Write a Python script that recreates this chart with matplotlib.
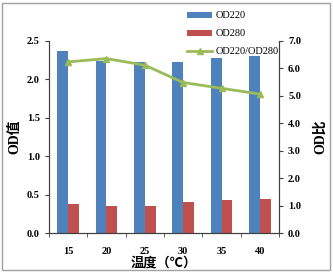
import matplotlib
matplotlib.use("Agg")
import matplotlib.pyplot as plt
import numpy as np
from matplotlib.patches import Rectangle

temps = ["15", "20", "25", "30", "35", "40"]
od220 = [2.37, 2.24, 2.22, 2.23, 2.27, 2.30]
od280 = [0.38, 0.35, 0.36, 0.41, 0.43, 0.45]
ratio = [6.23, 6.35, 6.11, 5.48, 5.27, 5.06]

blue = "#4F81BD"
red = "#C0504D"
green = "#9BBB59"
fam = ["Liberation Serif", "Noto Sans CJK SC"]

fig = plt.figure(figsize=(3.33, 2.73), dpi=100)
fig.patches.append(Rectangle((0.005, 0.011), 0.985, 0.978, transform=fig.transFigure,
                             fill=False, edgecolor="#a0a0a0", linewidth=1.0))
ax = fig.add_axes([0.147, 0.1454, 0.691, 0.7055])
ax2 = ax.twinx()

x = np.arange(len(temps))
w = 0.28
b1 = ax.bar(x - w / 2, od220, w, color=blue, label="OD220")
b2 = ax.bar(x + w / 2, od280, w, color=red, label="OD280")
l1, = ax2.plot(x, ratio, color=green, linewidth=2, marker="^", markersize=4.5,
               label="OD220/OD280")

ax.set_xlim(-0.5, len(temps) - 0.5)
ax.set_ylim(0, 2.5)
ax.set_yticks(np.arange(0, 2.51, 0.5))
ax.set_yticklabels(["%.1f" % v for v in np.arange(0, 2.51, 0.5)])
ax2.set_ylim(0, 7)
ax2.set_yticks(np.arange(0, 7.1, 1))
ax2.set_yticklabels(["%.1f" % v for v in np.arange(0, 7.1, 1)])

ax.set_xticks(x)
ax.set_xticklabels(temps)
ax.set_xticks(np.arange(-0.5, len(temps)), minor=True)
ax.tick_params(axis="x", which="major", length=0, pad=10)
ax.tick_params(axis="x", which="minor", length=3, direction="out", color="#404040")
ax.tick_params(axis="y", length=3, color="#404040")
ax2.tick_params(axis="y", length=3, color="#404040")

for a in (ax, ax2):
    for sp in a.spines.values():
        sp.set_color("#404040")
    a.spines["top"].set_visible(False)
    for lab in a.get_xticklabels() + a.get_yticklabels():
        lab.set_fontfamily("Liberation Serif")
        lab.set_fontweight("bold")
        lab.set_fontsize(7.5)

ax.set_xlabel("温度（℃）", family=fam, fontsize=9.5, fontweight="bold", labelpad=0)
ax.set_ylabel("OD值", family=fam, fontsize=10, fontweight="bold", labelpad=4)
ax2.set_ylabel("OD比", family=fam, fontsize=10, fontweight="bold", labelpad=9)

leg = fig.legend([b1, b2, l1], ["OD220", "OD280", "OD220/OD280"],
                 loc="upper left", bbox_to_anchor=(0.54, 0.985), frameon=False,
                 prop={"family": "Liberation Serif", "size": 7.5},
                 labelspacing=0.85, handlelength=2.4, handleheight=0.5,
                 handletextpad=0.3, borderpad=0.2)

fig.savefig("out.png", dpi=100)
